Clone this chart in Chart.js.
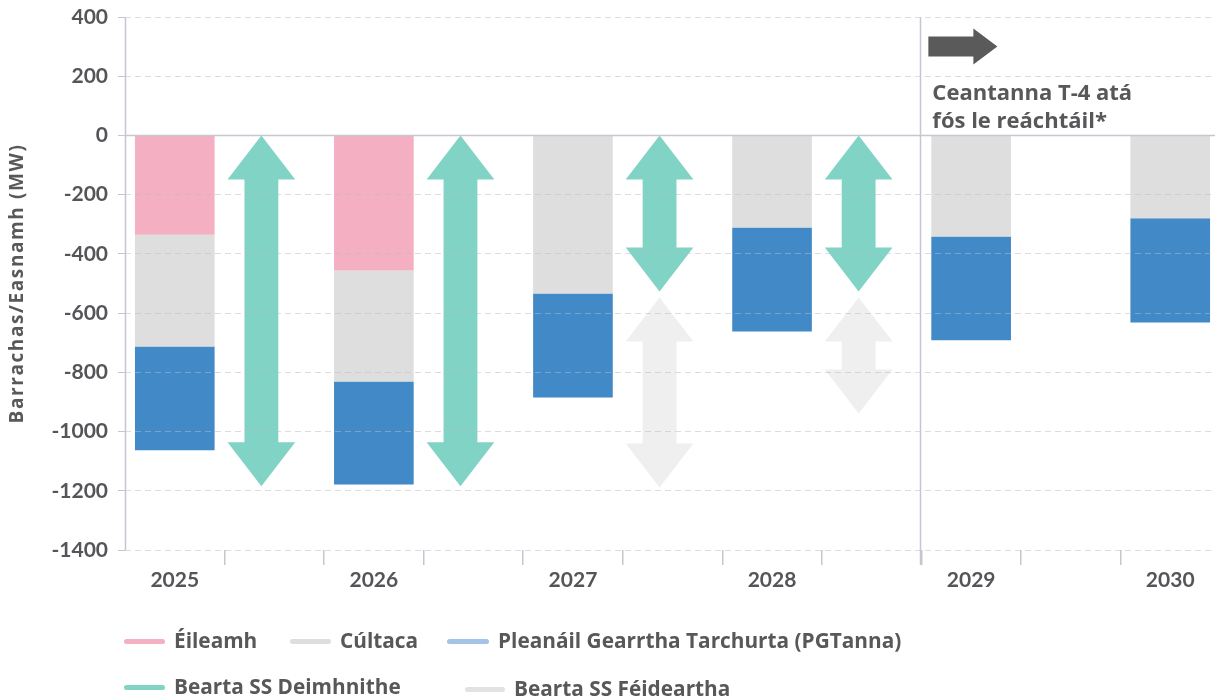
<!DOCTYPE html>
<html><head><meta charset="utf-8">
<script src="https://cdn.jsdelivr.net/npm/chart.js@4.4.1/dist/chart.umd.min.js"></script>
<style>
html,body{margin:0;padding:0;overflow:hidden;background:#fff;width:1215px;height:699px;}
#wrap{position:absolute;left:0;top:0;width:1220px;height:699px;}
.leg{position:absolute;font-family:"Open Sans",sans-serif;font-weight:bold;font-size:20.8px;color:#58585a;white-space:nowrap;line-height:26px;}
.mk{position:absolute;height:5px;border-radius:3px;}
</style></head><body>
<div id="wrap"><canvas id="c" width="1220" height="699"></canvas></div>
<div id="legend"></div>
<script>
// ---- data ----
const years = ['2025','2026','2027','2028','2029','2030'];
const demand  = [-335, -456, null, null, null, null];   // Éileamh
const reserve = [-378, -375, -534, -311, -341, -280];   // Cúltaca
const pgtanna = [-350, -348, -351, -351, -351, -352];   // PGTanna
const confirmedFrom = [0, 0, 0, 0, null, null];          // Bearta SS Deimhnithe
const confirmedTo   = [-1185, -1185, -527, -527, null, null];
const possibleFrom  = [null, null, -547, -547, null, null]; // Bearta SS Féideartha
const possibleTo    = [null, null, -1189, -939, null, null];
const yTickValues = [400, 200, 0, -200, -400, -600, -800, -1000, -1200, -1400];
const seriesNames = ['Éileamh', 'Cúltaca', 'Pleanáil Gearrtha Tarchurta (PGTanna)', 'Bearta SS Deimhnithe', 'Bearta SS Féideartha'];
const yTitle = 'Barrachas/Easnamh (MW)';
const noteLines = ['Ceantanna T-4 atá', 'fós le reáchtáil*'];
const futureFromYear = '2029';

// ---- styles ----
const COL = {pink:'#f5afc2', grey:'#dedede', blue:'#4189c7', blueLeg:'#a3c4e6', teal:'#81d3c5', greyArrow:'#efefef', text:'#58585a', axis:'#c6c6d0'};
const FONT = 'Lato, sans-serif';
const TFONT = '"Open Sans", sans-serif';

// slots: each year followed by an empty slot for arrows
const labels = [];
years.forEach((y, i) => { labels.push(y); if (i < years.length - 1) labels.push(''); });
const toSlots = arr => { const out = []; arr.forEach((v, i) => { out.push(v); if (i < arr.length - 1) out.push(null); }); return out; };

const arrowPlugin = {
  id: 'arrows',
  afterDatasetsDraw(chart) {
    const {ctx, scales: {x, y}} = chart;
    const slotW = x.getPixelForValue(1) - x.getPixelForValue(0);
    const hw = 0.34 * slotW, sw = 0.17 * slotW, hh = 44;
    function dbl(xc, v1, v2, color) {
      const yt = y.getPixelForValue(v1), yb = y.getPixelForValue(v2);
      ctx.beginPath();
      ctx.moveTo(xc, yt);
      ctx.lineTo(xc + hw, yt + hh); ctx.lineTo(xc + sw, yt + hh);
      ctx.lineTo(xc + sw, yb - hh); ctx.lineTo(xc + hw, yb - hh);
      ctx.lineTo(xc, yb);
      ctx.lineTo(xc - hw, yb - hh); ctx.lineTo(xc - sw, yb - hh);
      ctx.lineTo(xc - sw, yt + hh); ctx.lineTo(xc - hw, yt + hh);
      ctx.closePath();
      ctx.fillStyle = color; ctx.fill();
    }
    ctx.save();
    years.forEach((yr, i) => {
      const xc = x.getPixelForValue(2 * i + 1) - 0.13 * slotW;
      if (possibleFrom[i] != null) dbl(xc, possibleFrom[i], possibleTo[i], COL.greyArrow);
      if (confirmedFrom[i] != null) dbl(xc, confirmedFrom[i], confirmedTo[i], COL.teal);
    });
    ctx.restore();
  },
  afterDraw(chart) {
    const {ctx, chartArea, scales: {x, y}} = chart;
    const idx = labels.indexOf(futureFromYear);
    const xd = (x.getPixelForValue(idx - 1) + x.getPixelForValue(idx)) / 2 - 1;
    ctx.save();
    ctx.strokeStyle = COL.axis; ctx.lineWidth = 1.5;
    // y axis line
    const xl = Math.round(chartArea.left) + 0.5;
    ctx.beginPath(); ctx.moveTo(xl, chartArea.top); ctx.lineTo(xl, chartArea.bottom); ctx.stroke();
    // zero line
    const y0 = Math.round(y.getPixelForValue(0)) + 0.5;
    ctx.beginPath(); ctx.moveTo(chartArea.left, y0); ctx.lineTo(chartArea.right, y0); ctx.stroke();
    // divider
    ctx.beginPath(); ctx.moveTo(Math.round(xd) + 0.5, chartArea.top); ctx.lineTo(Math.round(xd) + 0.5, chartArea.bottom + 15); ctx.stroke();
    // dark arrow
    const yc = y.getPixelForValue(300);
    ctx.fillStyle = '#5a5a5a';
    ctx.beginPath();
    ctx.moveTo(xd + 8, yc - 10); ctx.lineTo(xd + 53, yc - 10); ctx.lineTo(xd + 53, yc - 18);
    ctx.lineTo(xd + 77, yc); ctx.lineTo(xd + 53, yc + 18); ctx.lineTo(xd + 53, yc + 10);
    ctx.lineTo(xd + 8, yc + 10); ctx.closePath(); ctx.fill();
    // note text
    ctx.fillStyle = COL.text; ctx.font = 'bold 22px ' + TFONT; ctx.textBaseline = 'alphabetic'; ctx.textAlign = 'left';
    const yb = y.getPixelForValue(120);
    noteLines.forEach((t, k) => ctx.fillText(t, xd + 12, yb + k * 28));
    // y axis title
    ctx.save();
    ctx.translate(18, (chartArea.top + chartArea.bottom) / 2);
    ctx.rotate(-Math.PI / 2);
    ctx.font = 'bold 19px ' + TFONT; ctx.textAlign = 'center'; ctx.textBaseline = 'middle';
    if ('letterSpacing' in ctx) ctx.letterSpacing = '1.6px';
    ctx.fillText(yTitle, 0, 0);
    ctx.restore();
    ctx.restore();
  }
};

new Chart(document.getElementById('c'), {
  type: 'bar',
  data: {
    labels,
    datasets: [
      {label: seriesNames[0], data: toSlots(demand), backgroundColor: COL.pink, stack: 's'},
      {label: seriesNames[1], data: toSlots(reserve), backgroundColor: COL.grey, stack: 's'},
      {label: seriesNames[2], data: toSlots(pgtanna), backgroundColor: COL.blue, stack: 's'}
    ]
  },
  options: {
    responsive: false, animation: false, devicePixelRatio: 1,
    layout: {padding: {top: 17, left: 0, right: 0, bottom: 99}},
    datasets: {bar: {categoryPercentage: 1, barPercentage: 0.8}},
    plugins: {legend: {display: false}, tooltip: {enabled: false}},
    scales: {
      x: {
        stacked: true, offset: true,
        afterFit: s => { s.height = 50; s.paddingLeft = 0; s.paddingRight = 0; },
        grid: {offset: true, drawOnChartArea: false, drawTicks: true, tickLength: 15,
               color: c => c.index === 0 ? 'rgba(0,0,0,0)' : COL.axis, lineWidth: 1.5},
        border: {display: false},
        ticks: {autoSkip: false, maxRotation: 0, padding: 3, color: '#555559', font: {family: FONT, weight: 'bold', size: 21}}
      },
      y: {
        stacked: true, min: -1400, max: 400,
        afterFit: s => { s.width = 125; s.paddingTop = 0; s.paddingBottom = 0; },
        afterBuildTicks: s => { s.ticks = yTickValues.map(v => ({value: v})); },
        grid: {color: 'rgba(185,185,200,0.5)', tickColor: COL.axis, tickLength: 7, z: 1, lineWidth: 1},
        border: {display: false, dash: [6, 4]},
        ticks: {padding: 10, color: '#555559', font: {family: FONT, weight: 'bold', size: 21}, callback: v => String(v)},
        title: {display: false}
      }
    }
  },
  plugins: [arrowPlugin]
});

// ---- legend ----
const legendColors = [COL.pink, COL.grey, COL.blueLeg, COL.teal, '#e2e2e2'];
const legendPos = [[124, 174, 641], [290, 340, 641], [447, 498, 641], [124, 174, 687], [465, 514, 689]];
const lg = document.getElementById('legend');
seriesNames.forEach((name, i) => {
  const [mx, tx, yc] = legendPos[i];
  const m = document.createElement('div'); m.className = 'mk';
  m.style.left = mx + 'px'; m.style.top = (yc - 2) + 'px'; m.style.width = (tx - mx - 9) + 'px'; m.style.background = legendColors[i];
  const t = document.createElement('div'); t.className = 'leg'; t.textContent = name;
  t.style.left = tx + 'px'; t.style.top = (yc - 14) + 'px';
  lg.appendChild(m); lg.appendChild(t);
});
</script>
</body></html>
